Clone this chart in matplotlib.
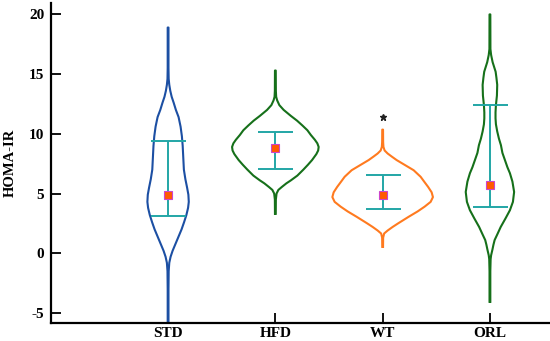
import numpy as np
import matplotlib
matplotlib.use("Agg")
import matplotlib.pyplot as plt

plt.rcParams["font.family"] = ["Liberation Serif", "DejaVu Serif"]
plt.rcParams["font.weight"] = "bold"

# groups and summary values
groups = ["STD", "HFD", "WT", "ORL"]
means = [4.9, 8.77, 4.9, 5.75]
err_low = [3.1, 7.03, 3.71, 3.88]
err_high = [9.4, 10.15, 6.53, 12.4]
outlier_group = "WT"
outlier_value = 11.4

# violin outlines: HOMA-IR level and relative density (half width)
std_level = [-5.8, -3, -1.5, -0.8, -0.3, 0.2, 0.8, 1.4, 2.0, 2.6, 3.2, 3.8, 4.3,
             4.9, 5.5, 6.2, 7.0, 8.0, 9.0, 9.8, 10.6, 11.4, 12.0, 12.6, 13.1,
             13.6, 14.1, 14.6, 15.5, 18.9]
std_dens = [0.4, 0.4, 0.6, 1.2, 2.5, 4.5, 7.5, 10.5, 13.5, 16, 18.3, 20, 20.7,
            20.3, 19, 17.3, 15.8, 15.2, 14.6, 13.8, 12.5, 10.5, 7.8, 5.6, 3.6,
            2.2, 1.2, 0.6, 0.4, 0.4]

hfd_level = [3.3, 4.5, 5.0, 5.3, 5.55, 5.85, 6.1, 6.5, 7.0, 7.4, 7.8, 8.3, 8.6,
             8.9, 9.2, 9.5, 9.9, 10.3, 10.7, 11.1, 11.5, 12.0, 12.4, 12.8, 13.1,
             13.6, 15.3]
hfd_dens = [0.4, 0.5, 1.2, 3, 6.5, 11, 15.5, 22, 28, 32.5, 36.7, 41, 42.8,
            43.3, 42, 39.5, 35.5, 32, 27, 21.7, 15.5, 8.3, 4, 1.8, 0.8,
            0.5, 0.4]

wt_level = [0.53, 1.3, 1.65, 1.9, 2.2, 2.5, 3.05, 3.5, 3.9, 4.3, 4.7, 5.1, 5.55,
            6.0, 6.4, 6.95, 7.5, 7.8, 8.1, 8.35, 8.6, 8.9, 9.3, 10.35]
wt_dens = [0.4, 0.5, 1.5, 5, 10, 15.5, 26, 35, 42, 48, 50.3, 49, 45.5,
           41.5, 38, 31, 20, 14, 9, 5, 2, 0.8, 0.5, 0.4]

orl_level = [-4.07, -1.5, -0.5, -0.17, 0.3, 0.7, 1.1, 1.6, 2.2, 2.9, 3.6, 4.3,
             5.13, 6.0, 6.7, 7.2, 7.8, 8.4, 9.05, 9.6, 10.2, 10.8, 11.3, 11.8,
             12.4, 13.2, 14.1, 14.7, 15.2, 16.0, 16.6, 17.1, 20.0]
orl_dens = [0.4, 0.4, 0.7, 1.2, 2.5, 3.5, 4.7, 7.5, 10.8, 15.5, 20, 23,
            24.2, 22.5, 20, 17.5, 15, 12.5, 11, 9, 7.3, 6, 5.6, 5.6,
            6, 7, 7.3, 6.5, 5.7, 2.7, 1.2, 0.5, 0.4]

levels = [std_level, hfd_level, wt_level, orl_level]
dens = [std_dens, hfd_dens, wt_dens, orl_dens]
colors = ["#1c4fa3", "#16701a", "#ff7a1f", "#16701a"]

fig = plt.figure(figsize=(5.5, 3.41), dpi=100)
ax = fig.add_axes([0.093, 0.054, 0.907, 0.936])

positions = np.arange(1, len(groups) + 1)
scale = 1 / 107.3  # density units to x data units

for pos, lv, d, c in zip(positions, levels, dens, colors):
    lv = np.array(lv)
    d = np.array(d) * scale
    ax.plot(np.concatenate([pos - d, (pos + d)[::-1]]),
            np.concatenate([lv, lv[::-1]]), color=c, lw=1.5, zorder=2)

means_arr = np.array(means)
yerr = [means_arr - np.array(err_low), np.array(err_high) - means_arr]
ax.errorbar(positions, means_arr, yerr=yerr, fmt="none", ecolor="#22a6a6",
            elinewidth=1.4, capsize=12.6, capthick=1.4, zorder=3)
ax.plot(positions, means_arr, ls="none", marker="s", ms=6,
        mfc="#ff5a00", mec="#cc44cc", mew=0.8, zorder=4)

ax.plot(positions[groups.index(outlier_group)], outlier_value, ls="none",
        marker="*", ms=4.5, color="#222222", zorder=4)

ax.set_xlim(-0.09, 4.56)
ax.set_ylim(-5.81, 20.92)
ax.set_xticks(positions)
ax.set_xticklabels(groups)
ax.set_yticks([-5, 0, 5, 10, 15, 20])
ax.set_yticklabels(["-5", "0", "5", "10", "15", "20"])
ax.tick_params(direction="in", length=7, width=1.3, labelsize=11, pad=5)
ax.tick_params(axis="x", pad=3)
ax.set_ylabel("HOMA-IR", fontsize=10.5, fontweight="bold", labelpad=9)

for side in ["top", "right"]:
    ax.spines[side].set_visible(False)
for side in ["left", "bottom"]:
    ax.spines[side].set_linewidth(1.6)

fig.savefig("out.png", dpi=100)
